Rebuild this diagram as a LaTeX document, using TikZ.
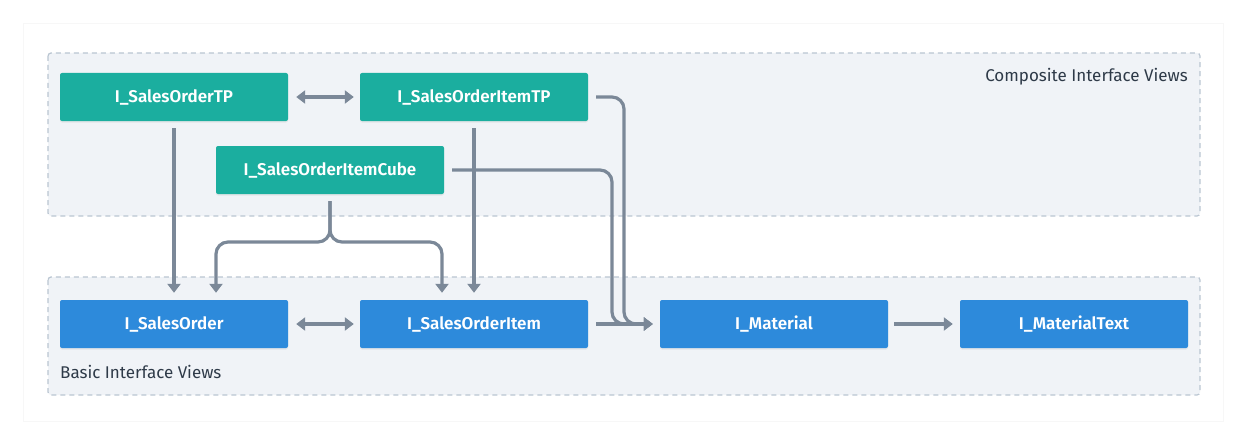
\documentclass[tikz,border=0pt]{standalone}
\usepackage{fontspec}
\setmainfont{Fira Sans}
\newfontfamily\nodefont{Fira Sans}[UprightFont=* SemiBold]
\usetikzlibrary{arrows.meta,shadows}
\definecolor{teal}{HTML}{1BAE9F}
\definecolor{blueb}{HTML}{2D8ADB}
\definecolor{linec}{HTML}{7B8898}
\definecolor{grpfill}{HTML}{F0F3F7}
\definecolor{grpline}{HTML}{BAC6D2}
\definecolor{txt}{HTML}{2E3A48}
\tikzset{
  box/.style={rectangle, rounded corners=2pt, minimum width=228pt, minimum height=48pt,
    inner sep=0pt, text=white, font=\nodefont\fontsize{17}{19}\selectfont,
    drop shadow={opacity=0.12, shadow xshift=0pt, shadow yshift=-1.5pt}},
  comp/.style={box, fill=teal},
  basic/.style={box, fill=blueb},
  grp/.style={draw=grpline, fill=grpfill, line width=1.2pt, dash pattern=on 5pt off 4pt, rounded corners=3pt},
  conn/.style={draw=linec, line width=3.2pt, rounded corners=12pt, -{Triangle[length=9pt,width=13pt]}},
  biconn/.style={conn, {Triangle[length=9pt,width=13pt]}-{Triangle[length=9pt,width=13pt]}},
  lbl/.style={text=txt, font=\fontsize{17}{19}\selectfont, inner sep=0pt}
}
\begin{document}
\begin{tikzpicture}[x=1pt,y=-1pt]
\useasboundingbox (0,0) rectangle (1248,444);
\fill[white] (0,0) rectangle (1248,444);
\draw[draw=black!3, fill=white] (23,23) rectangle (1223,421);
% groups
\path[grp] (48,53) rectangle (1200,216);
\path[grp] (48,277) rectangle (1200,395);
\node[lbl, anchor=east] (lcomp) at (1188,77) {Composite Interface Views};
\node[lbl, anchor=west] (lbasic) at (60,372) {Basic Interface Views};
% nodes
\node[comp] (sotp) at (174,97) {I\_SalesOrderTP};
\node[comp] (itp) at (474,97) {I\_SalesOrderItemTP};
\node[comp] (cube) at (330,170) {I\_SalesOrderItemCube};
\node[basic] (so) at (174,324) {I\_SalesOrder};
\node[basic] (soi) at (474,324) {I\_SalesOrderItem};
\node[basic] (mat) at (774,324) {I\_Material};
\node[basic] (matt) at (1074,324) {I\_MaterialText};
% connectors
\draw[biconn] ([xshift=8pt]sotp.east) -- ([xshift=-6pt]itp.west);
\draw[biconn] ([xshift=8pt]so.east) -- ([xshift=-6pt]soi.west);
\draw[conn] ([xshift=6pt]mat.east) -- ([xshift=-7pt]matt.west);
\draw[conn] ([xshift=8pt]soi.east) -- ([xshift=-7pt]mat.west);
\draw[conn] ([yshift=-7pt]sotp.south) -- ([yshift=7pt]so.north);
\draw[conn] ([yshift=-7pt]itp.south) -- ([yshift=7pt]soi.north);
\draw[conn] ([yshift=-7pt]cube.south) -- (330,242) -- (216,242) -- ([xshift=42pt,yshift=7pt]so.north);
\draw[conn] ([yshift=-7pt]cube.south) -- (330,242) -- (442,242) -- ([xshift=-32pt,yshift=7pt]soi.north);
\draw[conn] ([xshift=8pt]cube.east) -- (612,170) -- (612,324) -- ([xshift=-7pt]mat.west);
\draw[conn] ([xshift=8pt]itp.east) -- (624,97) -- (624,324) -- ([xshift=-7pt]mat.west);
\end{tikzpicture}
\end{document}
